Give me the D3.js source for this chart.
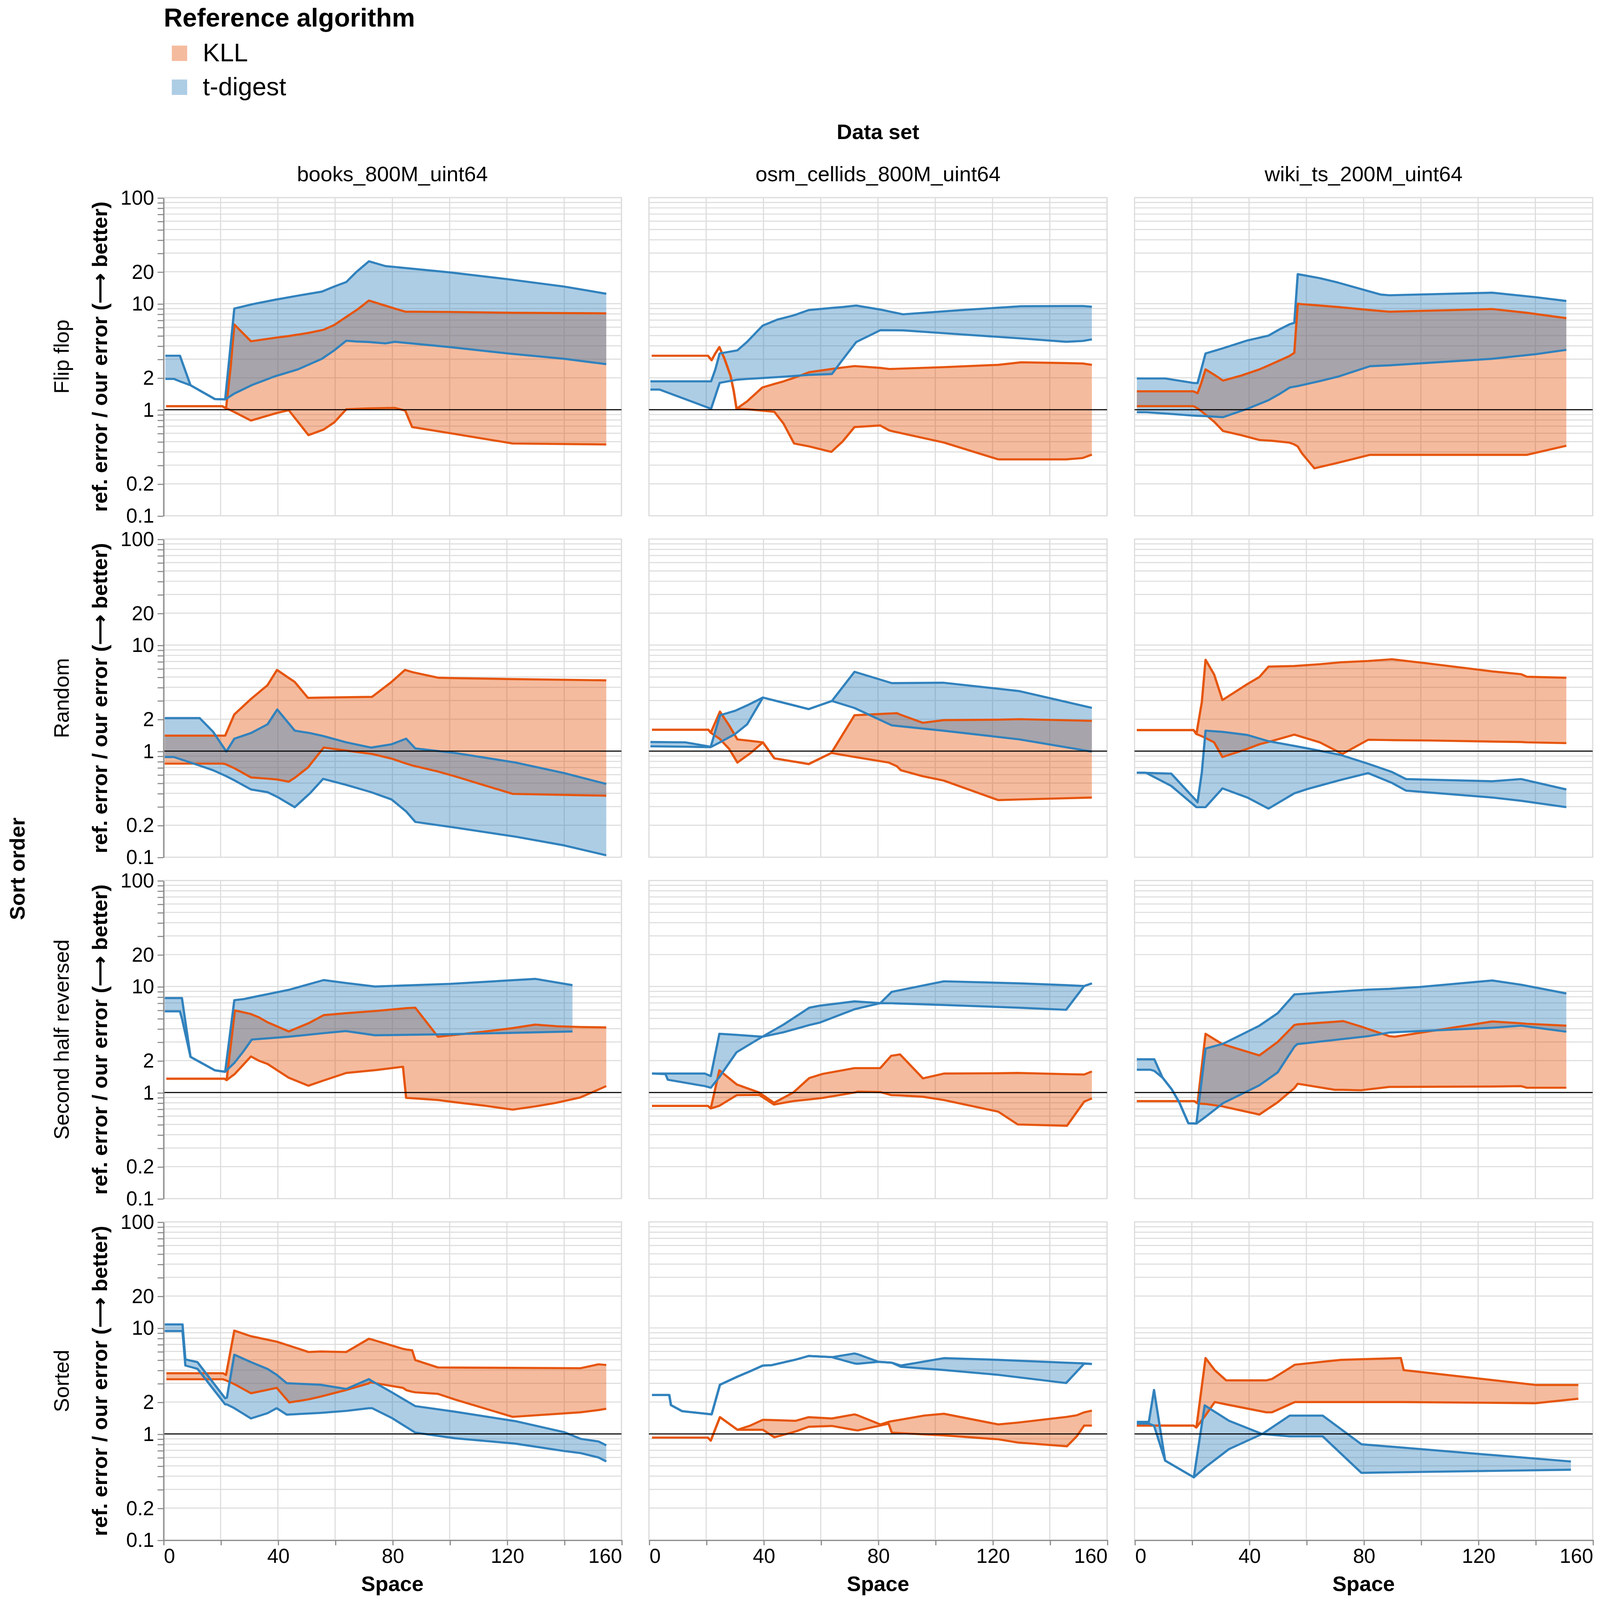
<!DOCTYPE html>
<html>
<head>
<meta charset="utf-8">
<script src="https://cdn.jsdelivr.net/npm/d3@7"></script>
<style>
  html, body { margin: 0; padding: 0; background: #fff; width: 100%; height: 100%; overflow: hidden; }
  #chart svg { display: block; width: 100vw; height: 100vh; }
  svg text { font-family: "Liberation Sans", Arial, Helvetica, sans-serif; }
</style>
</head>
<body>
<div id="chart"></div>
<script>
(function(){
  const sortOrders = ["Flip flop", "Random", "Second half reversed", "Sorted"];
  const dataSets = ["books_800M_uint64", "osm_cellids_800M_uint64", "wiki_ts_200M_uint64"];
  const algorithms = ["KLL", "t-digest"];
  const colors = ["#e6550d", "#3182bd"];
  const xTickValues = [0, 20, 40, 60, 80, 100, 120, 140, 160];
  const xLabelValues = [0, 40, 80, 120, 160];
  const yLabelValues = [0.1, 0.2, 1, 2, 10, 20, 100];

  // rows: [space, lowest ratio, highest ratio]
  const flipBooksKLL = [
    [1, 1.08, 1.08], [20.6, 1.08, 1.08], [21.9, 1.03, 1.03], [23.5, 0.99, 2.5],
    [24.8, 0.95, 6.36], [30.6, 0.79, 4.42], [39.6, 0.93, 4.79], [43.8, 0.99, 4.95],
    [50.7, 0.575, 5.3], [56, 0.65, 5.68], [59.7, 0.76, 6.3], [63.9, 1.01, 7.5],
    [68, 1.02, 8.9], [71.8, 1.03, 10.7], [80.8, 1.04, 9.0], [84.5, 0.98, 8.4],
    [86.9, 0.686, 8.4], [100.3, 0.6, 8.35], [122, 0.48, 8.2], [154.7, 0.47, 8.1]
  ];
  const flipBooksTD = [
    [0.7, 1.95, 3.23], [3.7, 1.95, 3.23], [5.8, 1.85, 3.23], [9.5, 1.7, 1.7],
    [18, 1.26, 1.26], [21.6, 1.25, 1.25], [24.8, 1.42, 9.0], [31.2, 1.72, 9.9],
    [39.1, 2.07, 10.9], [47, 2.4, 11.9], [55.4, 3.02, 13.0], [59.7, 3.63, 14.5],
    [63.9, 4.47, 16.0], [67.5, 4.4, 20.0], [71.8, 4.35, 25.1], [77.6, 4.22, 22.6],
    [80.8, 4.37, 22.2], [100.3, 3.89, 19.7], [120.4, 3.39, 17.0], [140, 3.02, 14.5],
    [154.7, 2.69, 12.4]
  ];
  const flipOsmKLL = [
    [1, 3.23, 3.23], [20.6, 3.23, 3.23], [21.9, 2.93, 2.93], [23.2, 3.4, 3.4],
    [24.6, 3.89, 3.89], [26.4, 3.02, 3.02], [28.5, 2.09, 2.09], [29.6, 1.51, 1.51],
    [30.6, 1.02, 1.02], [34.3, 1.01, 1.2], [39.6, 0.98, 1.62], [43.8, 0.955, 1.75],
    [47, 0.74, 1.85], [50.7, 0.48, 2.0], [56, 0.45, 2.26], [63.7, 0.4, 2.42],
    [67.6, 0.5, 2.5], [71.8, 0.686, 2.58], [80.8, 0.71, 2.48], [84, 0.636, 2.42],
    [103, 0.49, 2.52], [122, 0.34, 2.65], [130, 0.34, 2.8], [145.7, 0.34, 2.75],
    [151.5, 0.35, 2.73], [154.7, 0.377, 2.65]
  ];
  const flipOsmTD = [
    [0.5, 1.55, 1.85], [3.7, 1.55, 1.85], [21.7, 1.02, 1.85], [23.2, 1.35, 2.4],
    [24.7, 1.79, 3.39], [30.9, 1.92, 3.63], [34.3, 1.95, 4.37], [39.7, 1.99, 6.2],
    [44.9, 2.03, 7.08], [50.7, 2.08, 7.78], [55.8, 2.13, 8.71], [63.9, 2.17, 9.12],
    [67.6, 2.95, 9.3], [72.4, 4.35, 9.6], [80.8, 5.62, 8.8], [88.7, 5.6, 7.94],
    [109.3, 5.13, 8.71], [130, 4.7, 9.45], [145.7, 4.37, 9.5], [151.5, 4.45, 9.5],
    [154.7, 4.6, 9.35]
  ];
  const flipWikiKLL = [
    [0.8, 1.08, 1.49], [20.6, 1.08, 1.49], [22, 1.03, 1.43], [23.3, 0.97, 1.78],
    [24.8, 0.9, 2.4], [27.8, 0.77, 2.14], [30.9, 0.63, 1.88], [37.3, 0.575, 2.1],
    [43.6, 0.518, 2.4], [47.8, 0.51, 2.69], [54, 0.49, 3.2], [55.8, 0.47, 3.44],
    [57, 0.45, 10], [58.4, 0.39, 9.9], [62.8, 0.28, 9.7], [71.1, 0.316, 9.3],
    [82.2, 0.375, 8.7], [89, 0.375, 8.4], [124.9, 0.375, 8.9], [137, 0.375, 8.2],
    [150.8, 0.457, 7.3]
  ];
  const flipWikiTD = [
    [0.8, 0.946, 1.97], [4, 0.946, 1.97], [10.7, 0.92, 1.97], [20.4, 0.88, 1.79],
    [22, 0.875, 1.78], [24.8, 0.87, 3.39], [30.9, 0.85, 3.8], [39.4, 1.02, 4.5],
    [46.8, 1.23, 5.0], [50.5, 1.4, 5.7], [54.2, 1.62, 6.4], [55.8, 1.65, 6.6],
    [57, 1.67, 19.0], [64.7, 1.86, 17.4], [71.1, 2.05, 15.8], [82.2, 2.57, 13.0],
    [85.9, 2.6, 12.2], [89, 2.62, 12.0], [124.9, 3.02, 12.7], [140.2, 3.34, 11.5],
    [150.8, 3.67, 10.6]
  ];
  const randomBooksKLL = [
    [0.5, 0.762, 1.4], [20.6, 0.762, 1.4], [21.6, 0.755, 1.4], [24.8, 0.69, 2.22],
    [30.6, 0.565, 3.1], [36.4, 0.55, 4.19], [39.7, 0.54, 5.83], [43.8, 0.515, 4.9],
    [45.9, 0.56, 4.49], [50.5, 0.7, 3.18], [56, 1.08, 3.2], [70.2, 0.96, 3.24],
    [72.9, 0.94, 3.25], [79.7, 0.85, 4.49], [84.4, 0.77, 5.83], [87.1, 0.73, 5.55],
    [96.1, 0.64, 4.92], [101.9, 0.578, 4.88], [122, 0.395, 4.78], [154.7, 0.38, 4.65]
  ];
  const randomBooksTD = [
    [0.5, 0.88, 2.05], [3.7, 0.88, 2.05], [12.7, 0.73, 2.05], [17.4, 0.66, 1.52],
    [22, 0.58, 0.99], [24.8, 0.53, 1.31], [30.6, 0.435, 1.48], [36.4, 0.41, 1.79],
    [39.8, 0.37, 2.47], [45.9, 0.296, 1.56], [51.2, 0.4, 1.48], [55.8, 0.547, 1.39],
    [63.9, 0.48, 1.21], [72.6, 0.41, 1.08], [79.7, 0.35, 1.16], [84.8, 0.27, 1.31],
    [88, 0.215, 1.06], [101.9, 0.19, 0.96], [123, 0.156, 0.78], [140, 0.129, 0.62],
    [154.7, 0.104, 0.49]
  ];
  const randomOsmKLL = [
    [1.06, 1.59, 1.59], [20.8, 1.59, 1.59], [21.6, 1.49, 1.49], [24.8, 1.3, 2.36],
    [28, 1.05, 1.75], [30.9, 0.78, 1.29], [35.3, 0.95, 1.25], [39.8, 1.21, 1.21],
    [43.8, 0.855, 0.855], [55.8, 0.755, 0.755], [63.7, 0.96, 0.96], [71.8, 0.88, 2.18],
    [83.7, 0.78, 2.26], [86.6, 0.72, 2.28], [88, 0.66, 2.2], [95.6, 0.58, 1.85],
    [103, 0.527, 1.96], [122, 0.345, 1.98], [129.4, 0.35, 2.0], [154.7, 0.365, 1.93]
  ];
  const randomOsmTD = [
    [0.5, 1.11, 1.22], [12.7, 1.1, 1.21], [21.6, 1.09, 1.1], [24.8, 1.21, 2.18],
    [30.1, 1.45, 2.4], [34.3, 1.79, 2.7], [39.8, 3.2, 3.2], [55.8, 2.49, 2.49],
    [63.9, 2.97, 2.97], [71.8, 2.55, 5.6], [84.8, 1.75, 4.38], [102.7, 1.56, 4.42],
    [129.4, 1.29, 3.68], [154.7, 0.99, 2.56]
  ];
  const randomWikiKLL = [
    [0.8, 1.58, 1.58], [20.6, 1.58, 1.58], [21.6, 1.45, 1.45], [23.5, 1.38, 2.9],
    [24.8, 1.33, 7.28], [27.8, 1.21, 5.28], [30.7, 0.88, 3.03], [39.4, 1.05, 4.29],
    [43.6, 1.16, 5.0], [46.8, 1.22, 6.27], [55.8, 1.43, 6.35], [64.7, 1.21, 6.6],
    [72.6, 0.94, 6.9], [81.6, 1.28, 7.08], [89.9, 1.27, 7.35], [102.7, 1.26, 6.7],
    [124.9, 1.23, 5.65], [135, 1.22, 5.32], [137, 1.21, 5.03], [150.8, 1.19, 4.92]
  ];
  const randomWikiTD = [
    [0.8, 0.625, 0.625], [4, 0.625, 0.624], [12.8, 0.47, 0.614], [21.6, 0.296, 0.34],
    [22, 0.296, 0.329], [23.5, 0.296, 0.63], [24.8, 0.296, 1.56], [30.7, 0.445, 1.52],
    [39.4, 0.365, 1.42], [46.8, 0.287, 1.24], [55.8, 0.4, 1.12], [60.5, 0.44, 1.06],
    [72, 0.535, 0.92], [81.6, 0.62, 0.76], [90, 0.5, 0.634], [94.8, 0.424, 0.545],
    [124.9, 0.365, 0.52], [135, 0.34, 0.545], [150.8, 0.296, 0.435]
  ];
  const reversedBooksKLL = [
    [1.06, 1.35, 1.35], [21.4, 1.35, 1.35], [22.1, 1.31, 1.31], [25, 1.5, 5.95],
    [30.6, 2.19, 5.5], [33.3, 2.0, 5.13], [36.4, 1.86, 4.6], [43.8, 1.38, 3.77],
    [50.7, 1.16, 4.5], [56, 1.3, 5.37], [63.9, 1.53, 5.6], [74.4, 1.63, 5.89],
    [83.7, 1.75, 6.2], [84.8, 0.89, 6.25], [88, 0.88, 6.31], [95.9, 0.85, 3.36],
    [101.9, 0.81, 3.5], [112.5, 0.75, 3.77], [122, 0.69, 4.05], [129.9, 0.74, 4.37],
    [137.3, 0.8, 4.22], [145.7, 0.9, 4.15], [154.7, 1.15, 4.11]
  ];
  const reversedBooksTD = [
    [0.5, 5.83, 7.78], [5.8, 5.83, 7.78], [6.5, 5.0, 7.78], [9.5, 2.17, 2.17],
    [18, 1.62, 1.62], [21.6, 1.57, 1.57], [24.8, 1.9, 7.43], [28, 2.45, 7.6],
    [30.9, 3.16, 7.9], [43.8, 3.36, 9.3], [56, 3.63, 11.5], [63.7, 3.8, 10.8],
    [73.9, 3.47, 10.0], [100.3, 3.55, 10.6], [129.9, 3.7, 11.8], [142.9, 3.77, 10.3]
  ];
  const reversedOsmKLL = [
    [1.06, 0.748, 0.748], [20.6, 0.748, 0.748], [21.6, 0.708, 0.708], [24.6, 0.75, 1.62],
    [30.7, 0.946, 1.19], [38.5, 0.95, 1.0], [43.7, 0.77, 0.8], [50.4, 0.83, 1.0],
    [56, 0.86, 1.37], [60.7, 0.89, 1.5], [71.8, 1.0, 1.7], [72.9, 1.02, 1.7],
    [80.8, 1.01, 1.7], [84.6, 0.946, 2.22], [87.7, 0.94, 2.29], [95.7, 0.912, 1.36],
    [103, 0.85, 1.51], [122, 0.66, 1.52], [128.8, 0.5, 1.53], [146, 0.486, 1.49],
    [152, 0.82, 1.48], [154.7, 0.88, 1.58]
  ];
  const reversedOsmTD = [
    [1.06, 1.51, 1.51], [5.8, 1.49, 1.51], [6.6, 1.32, 1.51], [19.5, 1.15, 1.51],
    [21.6, 1.11, 1.43], [24.6, 1.4, 3.58], [30.6, 2.4, 3.5], [39.6, 3.36, 3.36],
    [47, 3.7, 4.37], [56, 4.33, 6.31], [59.7, 4.57, 6.6], [71.8, 6.1, 7.24],
    [80.8, 6.97, 6.97], [84.8, 6.95, 8.9], [103, 6.7, 11.2], [129.9, 6.3, 10.7],
    [145.7, 6.03, 10.3], [152, 10.1, 10.1], [154.7, 10.7, 10.7]
  ];
  const reversedWikiKLL = [
    [0.8, 0.83, 0.83], [20.9, 0.83, 0.83], [22, 0.79, 0.79], [24.8, 0.78, 3.58],
    [30.7, 0.74, 2.86], [43.6, 0.62, 2.24], [50, 0.81, 3.0], [55.8, 1.1, 4.33],
    [57, 1.21, 4.4], [70, 1.06, 4.65], [72.9, 1.06, 4.72], [79, 1.05, 4.2],
    [89, 1.13, 3.4], [90.9, 1.13, 3.36], [124.9, 1.14, 4.68], [135, 1.15, 4.5],
    [137, 1.11, 4.45], [150.8, 1.11, 4.27]
  ];
  const reversedWikiTD = [
    [0.8, 1.64, 2.06], [5.6, 1.64, 2.06], [6.9, 1.6, 2.06], [9.8, 1.38, 1.38],
    [13, 1.07, 1.07], [15.6, 0.81, 0.81], [18.8, 0.513, 0.513], [21.6, 0.51, 0.51],
    [24.8, 0.59, 2.6], [30.9, 0.794, 2.88], [43.6, 1.17, 4.27], [50, 1.55, 5.6],
    [55.8, 2.7, 8.42], [56.8, 2.86, 8.45], [81.6, 3.4, 9.35], [89, 3.68, 9.5],
    [99.6, 3.8, 9.9], [124.9, 4.08, 11.4], [135, 4.27, 10.4], [150.8, 3.75, 8.6]
  ];
  const sortedBooksKLL = [
    [1.06, 3.28, 3.74], [20.8, 3.28, 3.74], [21.9, 3.2, 3.6], [24.8, 2.95, 9.44],
    [30.6, 2.42, 8.35], [39.6, 2.72, 7.42], [44, 1.98, 6.8], [50.7, 2.12, 5.93],
    [54.9, 2.25, 6.0], [63.9, 2.6, 5.93], [71.8, 3.0, 7.91], [72.3, 3.07, 7.85],
    [83.7, 2.72, 6.35], [85, 2.58, 6.25], [86.9, 2.5, 6.15], [88, 2.47, 4.97],
    [95.9, 2.39, 4.24], [101.9, 2.11, 4.23], [122, 1.45, 4.2], [145.7, 1.6, 4.17],
    [152, 1.68, 4.54], [154.7, 1.73, 4.47]
  ];
  const sortedBooksTD = [
    [0.5, 9.34, 10.8], [6.7, 9.34, 10.8], [7.7, 4.42, 5.05], [11.9, 4.12, 4.76],
    [21.6, 1.9, 2.17], [22.2, 1.9, 2.2], [24.8, 1.75, 5.59], [30.6, 1.4, 4.76],
    [36.4, 1.57, 4.1], [39.6, 1.75, 3.61], [43.1, 1.52, 3.01], [54.9, 1.58, 2.91],
    [63.9, 1.65, 2.66], [71.8, 1.75, 3.29], [72.9, 1.75, 3.15], [79.7, 1.42, 2.48],
    [88, 1.03, 1.83], [101.9, 0.91, 1.62], [123, 0.81, 1.32], [140, 0.69, 1.04],
    [145.7, 0.66, 0.9], [152, 0.6, 0.85], [154.7, 0.55, 0.78]
  ];
  const sortedOsmKLL = [
    [1.06, 0.923, 0.923], [20.6, 0.923, 0.923], [21.6, 0.866, 0.866], [24.8, 1.44, 1.44],
    [30.9, 1.095, 1.095], [35.4, 1.095, 1.2], [39.8, 1.095, 1.36], [43.8, 0.93, 1.35],
    [51.2, 1.055, 1.33], [55.8, 1.17, 1.44], [63.9, 1.19, 1.4], [71.8, 1.09, 1.53],
    [72.9, 1.08, 1.5], [80.8, 1.2, 1.23], [83.7, 1.25, 1.3], [84.8, 1.03, 1.32],
    [96.1, 0.99, 1.49], [103, 0.97, 1.55], [122, 0.89, 1.23], [128.8, 0.83, 1.28],
    [146, 0.765, 1.45], [149.4, 0.95, 1.5], [152, 1.2, 1.6], [154.7, 1.2, 1.66]
  ];
  const sortedOsmTD = [
    [1.06, 2.33, 2.33], [7.1, 2.33, 2.33], [7.7, 1.87, 1.87], [11.6, 1.64, 1.64],
    [21.9, 1.53, 1.53], [24.8, 2.91, 2.91], [30.9, 3.47, 3.47], [35.4, 3.91, 3.91],
    [39.8, 4.42, 4.42], [42.8, 4.45, 4.45], [51.2, 5.02, 5.02], [55.8, 5.44, 5.44],
    [63.9, 5.3, 5.3], [71.8, 4.62, 5.74], [72.9, 4.59, 5.65], [80.2, 4.79, 4.79],
    [84.8, 4.7, 4.7], [88, 4.3, 4.42], [103, 4.01, 5.19], [122, 3.61, 5.0],
    [145.7, 3.02, 4.7], [152, 4.6, 4.63], [154.7, 4.57, 4.57]
  ];
  const sortedWikiKLL = [
    [0.8, 1.2, 1.2], [20.6, 1.2, 1.2], [21.6, 1.15, 1.15], [24.8, 1.5, 5.2],
    [28, 2.0, 4.0], [32, 1.9, 3.2], [46, 1.6, 3.2], [48, 1.6, 3.3],
    [56, 2.0, 4.5], [72, 2.0, 5.0], [93, 2.0, 5.2], [94, 2.0, 4.0],
    [140, 1.95, 2.9], [155, 2.15, 2.9]
  ];
  const sortedWikiTD = [
    [0.8, 1.25, 1.3], [5, 1.25, 1.3], [6.8, 1.2, 2.6], [10.7, 0.56, 0.56],
    [20.7, 0.39, 0.39], [24.5, 0.48, 1.86], [33, 0.72, 1.33], [44.6, 1.0, 1.0],
    [54.2, 0.95, 1.49], [65.7, 0.95, 1.49], [79.2, 0.43, 0.8], [152.4, 0.46, 0.55]
  ];

  const panels = [
    [[flipBooksKLL, flipBooksTD], [flipOsmKLL, flipOsmTD], [flipWikiKLL, flipWikiTD]],
    [[randomBooksKLL, randomBooksTD], [randomOsmKLL, randomOsmTD], [randomWikiKLL, randomWikiTD]],
    [[reversedBooksKLL, reversedBooksTD], [reversedOsmKLL, reversedOsmTD], [reversedWikiKLL, reversedWikiTD]],
    [[sortedBooksKLL, sortedBooksTD], [sortedOsmKLL, sortedOsmTD], [sortedWikiKLL, sortedWikiTD]]
  ];

  const W = 1397, H = 1509;
  const left = 142.6, top = 186.4, pw = 400, ph = 300, stepX = 424, stepY = 322;
  const font = "\"Liberation Sans\", Arial, Helvetica, sans-serif";

  // the chart is stretched to the window; text is squeezed back so it keeps its shape
  const vw = window.innerWidth || 4191, vh = window.innerHeight || 4527;
  const k = (vh / H) / (vw / W);
  const place = (px, py, rot) => `translate(${px},${py}) scale(${k},1)` + (rot ? ` rotate(${rot})` : "");

  const svg = d3.select("#chart").append("svg")
    .attr("viewBox", `0 0 ${W} ${H}`)
    .attr("preserveAspectRatio", "none");

  svg.append("rect").attr("width", W).attr("height", H).attr("fill", "#fff");

  const x = d3.scaleLinear().domain([0, 160]).range([0, pw]);
  const y = d3.scaleLog().domain([0.1, 100]).range([ph, 0]);
  const yTicks = y.ticks();
  const isLabel = d => yLabelValues.some(v => Math.abs(v - d) / v < 1e-6);

  // legend
  const legend = svg.append("g");
  legend.append("text")
    .attr("transform", place(143, 25))
    .attr("font-size", 24.5).attr("font-weight", "bold")
    .text("Reference algorithm");
  algorithms.forEach((a, i) => {
    legend.append("rect")
      .attr("x", 150).attr("y", 43 + i * 32)
      .attr("width", 14.5 * k).attr("height", 14.5)
      .attr("fill", colors[i]).attr("fill-opacity", 0.4);
    legend.append("text")
      .attr("transform", place(177, 58 + i * 32))
      .attr("font-size", 24)
      .text(a);
  });

  // column title and headers
  svg.append("text")
    .attr("transform", place(left + (3 * pw + 2 * (stepX - pw)) / 2, 131))
    .attr("text-anchor", "middle").attr("font-size", 20).attr("font-weight", "bold")
    .text("Data set");
  dataSets.forEach((d, j) => {
    svg.append("text")
      .attr("transform", place(left + j * stepX + pw / 2, 171))
      .attr("text-anchor", "middle").attr("font-size", 20)
      .text(d);
  });

  const midY = top + (4 * ph + 3 * (stepY - ph)) / 2;
  svg.append("text")
    .attr("transform", place(21.5, midY, -90))
    .attr("text-anchor", "middle").attr("font-size", 20).attr("font-weight", "bold")
    .text("Sort order");

  panels.forEach((row, i) => {
    const rowY = top + i * stepY;
    svg.append("text")
      .attr("transform", place(60, rowY + ph / 2, -90))
      .attr("text-anchor", "middle").attr("font-size", 20)
      .text(sortOrders[i]);
    svg.append("text")
      .attr("transform", place(93.5, rowY + ph / 2, -90))
      .attr("text-anchor", "middle").attr("font-size", 20).attr("font-weight", "bold")
      .text("ref. error / our error (\u27F6 better)");

    row.forEach((series, j) => {
      const g = svg.append("g").attr("transform", `translate(${left + j * stepX},${rowY})`);

      g.append("g").selectAll("line").data(xTickValues).join("line")
        .attr("x1", d => x(d)).attr("x2", d => x(d))
        .attr("y1", 0).attr("y2", ph)
        .attr("stroke", "#ddd").attr("stroke-width", 1);
      g.append("g").selectAll("line").data(yTicks).join("line")
        .attr("x1", 0).attr("x2", pw)
        .attr("y1", d => y(d)).attr("y2", d => y(d))
        .attr("stroke", "#ddd").attr("stroke-width", 1);
      g.append("rect")
        .attr("width", pw).attr("height", ph)
        .attr("fill", "none").attr("stroke", "#ddd");

      const area = d3.area()
        .x(d => x(d[0])).y0(d => y(d[1])).y1(d => y(d[2]));
      const lowLine = d3.line().x(d => x(d[0])).y(d => y(d[1]));
      const highLine = d3.line().x(d => x(d[0])).y(d => y(d[2]));

      series.forEach((s, n) => {
        g.append("path").attr("d", area(s))
          .attr("fill", colors[n]).attr("fill-opacity", 0.4);
      });
      series.forEach((s, n) => {
        [lowLine, highLine].forEach(fn => {
          g.append("path").attr("d", fn(s))
            .attr("fill", "none").attr("stroke", colors[n])
            .attr("stroke-width", 2).attr("stroke-linejoin", "round");
        });
      });

      g.append("line")
        .attr("x1", 0).attr("x2", pw)
        .attr("y1", y(1)).attr("y2", y(1))
        .attr("stroke", "#000").attr("stroke-width", 1);

      if (j === 0) {
        const ax = g.append("g").call(
          d3.axisLeft(y).tickValues(yTicks)
            .tickFormat(d => isLabel(d) ? d3.format("~g")(d) : "")
            .tickSize(5).tickSizeOuter(0).tickPadding(3));
        ax.attr("font-size", 19).attr("font-family", font);
        ax.selectAll(".domain, .tick line").attr("stroke", "#888");
        ax.selectAll(".tick text").attr("x", -8 / k).attr("transform", `scale(${k},1)`);
      }
      if (i === panels.length - 1) {
        const ax = g.append("g").attr("transform", `translate(0,${ph})`).call(
          d3.axisBottom(x).tickValues(xTickValues)
            .tickFormat(d => xLabelValues.includes(d) ? d : "")
            .tickSize(5).tickSizeOuter(0).tickPadding(3));
        ax.attr("font-size", 19).attr("font-family", font);
        ax.selectAll(".domain, .tick line").attr("stroke", "#888");
        ax.selectAll(".tick text")
          .attr("transform", `scale(${k},1)`)
          .attr("text-anchor", d => d === 0 ? "start" : d === 160 ? "end" : "middle");
        g.append("text")
          .attr("transform", place(pw / 2, ph + 48))
          .attr("text-anchor", "middle").attr("font-size", 20).attr("font-weight", "bold")
          .text("Space");
      }
    });
  });
})();
</script>
</body>
</html>
